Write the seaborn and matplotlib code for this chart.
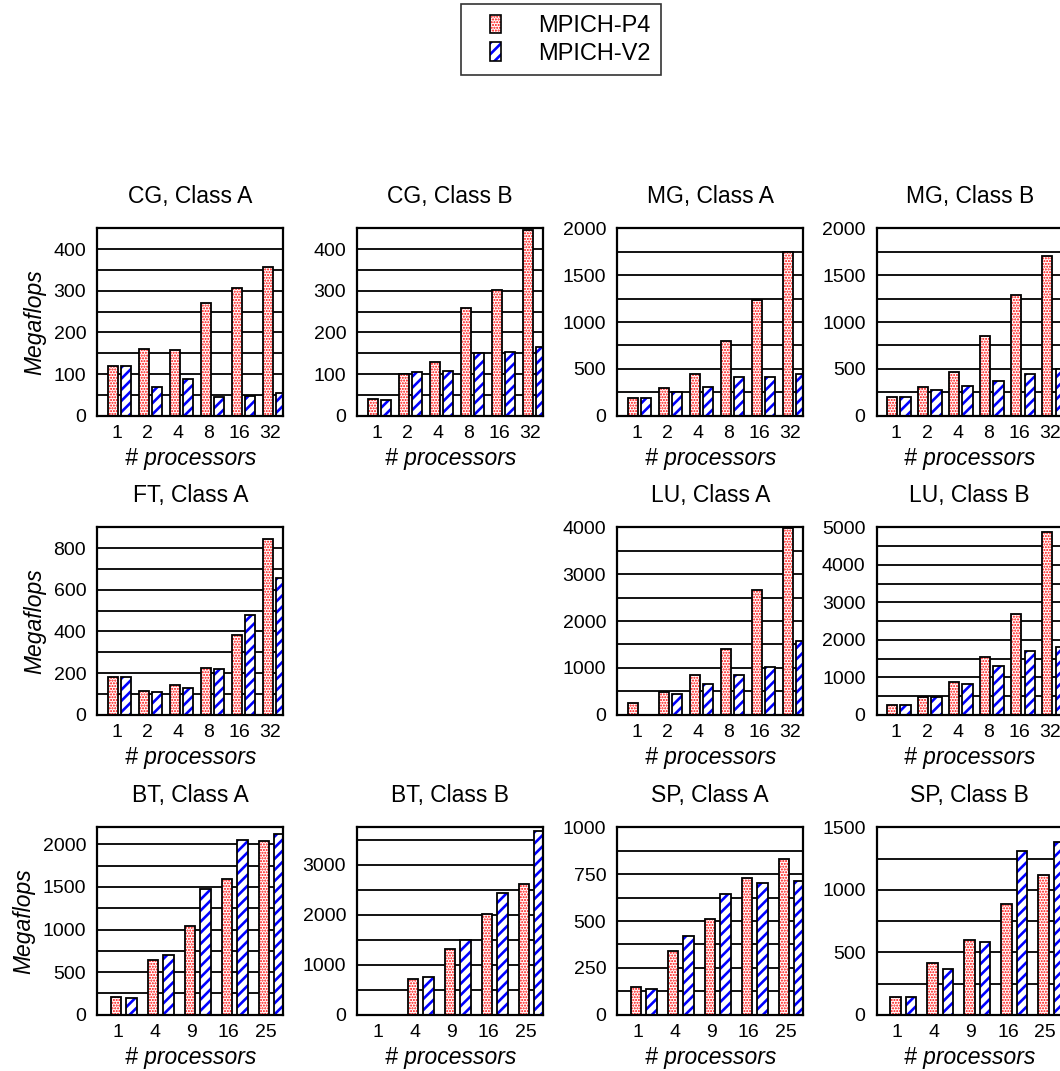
import matplotlib
matplotlib.use('Agg')
import pandas as pd
import seaborn as sns
from matplotlib import pyplot as plt
from matplotlib.patches import Patch, Rectangle
from matplotlib.legend_handler import HandlerPatch
from matplotlib.ticker import MultipleLocator
from matplotlib.colors import to_rgba

series = ['MPICH-P4', 'MPICH-V2']
procs_pow2 = ['1', '2', '4', '8', '16', '32']
procs_sq = ['1', '4', '9', '16', '25']

cg_a_p4 = [120, 160, 158, 271, 306, 358]
cg_a_v2 = [119, 70, 88, 45, 48, 54]
cg_b_p4 = [41, 100, 128, 259, 303, 445]
cg_b_v2 = [37, 104, 107, 150, 154, 166]
mg_a_p4 = [193, 293, 446, 800, 1232, 1746]
mg_a_v2 = [193, 254, 311, 418, 413, 443]
mg_b_p4 = [204, 311, 471, 846, 1289, 1700]
mg_b_v2 = [204, 275, 321, 375, 443, 496]
ft_a_p4 = [180, 114, 143, 227, 384, 843]
ft_a_v2 = [180, 108, 127, 219, 479, 658]
lu_a_p4 = [262, 479, 850, 1407, 2671, 3993]
lu_a_v2 = [None, 443, 657, 850, 1029, 1571]
lu_b_p4 = [265, 482, 884, 1536, 2679, 4866]
lu_b_v2 = [265, 464, 821, 1295, 1714, 1804]
bt_a_p4 = [212, 647, 1047, 1596, 2035]
bt_a_v2 = [196, 702, 1471, 2055, 2125]
bt_b_p4 = [None, 718, 1322, 2007, 2617]
bt_b_v2 = [None, 752, 1503, 2443, 3671]
sp_a_p4 = [150, 341, 512, 727, 830]
sp_a_v2 = [139, 418, 643, 705, 712]
sp_b_p4 = [145, 415, 600, 887, 1122]
sp_b_v2 = [145, 370, 579, 1310, 1385]

# title, categories, p4, v2, ymax, major step, grid step, row, col
panels = [
    ('CG, Class A', procs_pow2, cg_a_p4, cg_a_v2, 450, 100, 50, 0, 0),
    ('CG, Class B', procs_pow2, cg_b_p4, cg_b_v2, 450, 100, 50, 0, 1),
    ('MG, Class A', procs_pow2, mg_a_p4, mg_a_v2, 2000, 500, 250, 0, 2),
    ('MG, Class B', procs_pow2, mg_b_p4, mg_b_v2, 2000, 500, 250, 0, 3),
    ('FT, Class A', procs_pow2, ft_a_p4, ft_a_v2, 900, 200, 100, 1, 0),
    ('LU, Class A', procs_pow2, lu_a_p4, lu_a_v2, 4000, 1000, 500, 1, 2),
    ('LU, Class B', procs_pow2, lu_b_p4, lu_b_v2, 5000, 1000, 500, 1, 3),
    ('BT, Class A', procs_sq, bt_a_p4, bt_a_v2, 2200, 500, 250, 2, 0),
    ('BT, Class B', procs_sq, bt_b_p4, bt_b_v2, 3750, 1000, 500, 2, 1),
    ('SP, Class A', procs_sq, sp_a_p4, sp_a_v2, 1000, 250, 125, 2, 2),
    ('SP, Class B', procs_sq, sp_b_p4, sp_b_v2, 1500, 500, 250, 2, 3),
]

W, H = 1060, 1071
col_left = [97.3, 357.3, 617.3, 876.7]
row_top = [228.3, 527.3, 827.3]
ax_w, ax_h = 186, 187.5

sns.set_style('white')
plt.rcParams['font.family'] = ['Liberation Sans', 'DejaVu Sans']
plt.rcParams['hatch.linewidth'] = 0.8
for k in ['text.color', 'axes.labelcolor', 'xtick.color', 'ytick.color']:
    plt.rcParams[k] = 'black'

HATCH = {'MPICH-P4': ('......', 'red', 1.0), 'MPICH-V2': ('///', 'blue', 1.9)}


def hatch_width(artist, lw):
    if hasattr(artist, 'set_hatch_linewidth'):
        artist.set_hatch_linewidth(lw)
    artist._hatch_linewidth = lw
    orig = artist.draw

    def draw(renderer):
        with plt.rc_context({'hatch.linewidth': lw}):
            orig(renderer)
    artist.draw = draw


def style_bar(p, name, lw=1.3):
    hatch, color, hlw = HATCH[name]
    p.set_facecolor('white')
    p.set_edgecolor('black')
    p.set_linewidth(lw)
    p.set_hatch(hatch)
    p._hatch_color = to_rgba(color)
    hatch_width(p, hlw)


def draw_panel(ax, title, cats, p4, v2, ymax, major, minor, col):
    df = pd.DataFrame({
        'procs': cats + cats,
        'series': [series[0]] * len(cats) + [series[1]] * len(cats),
        'mflops': p4 + v2,
    }).dropna()
    six = len(cats) == 6
    sns.barplot(data=df, x='procs', y='mflops', hue='series', order=cats,
                hue_order=series, palette=['red', 'blue'], saturation=1,
                width=0.85 if six else 0.84, gap=0.23 if six else 0.32,
                errorbar=None, legend=False, ax=ax)
    for p in ax.patches:
        fc = p.get_facecolor()
        style_bar(p, series[0] if fc[0] > fc[2] else series[1])

    n = len(cats)
    ax.set_xlim(-0.716, n - 0.72 if six else n - 0.69)
    if six:
        ticks = [i - 0.08 - 0.012 * i for i in range(n)]
    else:
        ticks = [i - 0.17 for i in range(n)]
    ax.set_xticks(ticks)
    ax.set_xticklabels(cats)
    ax.set_ylim(0, ymax)
    ax.yaxis.set_major_locator(MultipleLocator(major))
    ax.yaxis.set_minor_locator(MultipleLocator(minor))
    ax.set_axisbelow(True)
    ax.grid(which='both', axis='y', color='black', lw=1.3)
    ax.grid(False, axis='x')
    ax.tick_params(axis='both', which='both', length=0, labelsize=14)
    ax.tick_params(axis='x', pad=6.5)
    ax.tick_params(axis='y', pad=8)
    for s in ax.spines.values():
        s.set_color('black')
        s.set_linewidth(1.6)
    ax.set_title(title, fontsize=16.5, pad=18)
    ax.set_xlabel('# processors', fontsize=16.5, style='italic', labelpad=4)
    if col == 0:
        ax.set_ylabel('Megaflops', fontsize=16.5, style='italic', labelpad=5)
    else:
        ax.set_ylabel('')


fig = plt.figure(figsize=(W / 100, H / 100), dpi=100)
for title, cats, p4, v2, ymax, major, minor, r, c in panels:
    ax = fig.add_axes([col_left[c] / W, 1 - (row_top[r] + ax_h) / H, ax_w / W, ax_h / H])
    draw_panel(ax, title, cats, p4, v2, ymax, major, minor, c)


def narrow_box(legend, orig_handle, xdescent, ydescent, width, height, fontsize):
    w = 0.47 * fontsize
    return Rectangle((-xdescent + width - w, -ydescent), w, height)


handles = []
for name in series:
    h = Patch(label=name)
    style_bar(h, name, lw=1.2)
    handles.append(h)

leg = fig.legend(handles=handles, labels=series, loc='upper center',
                 bbox_to_anchor=(561 / W, 1 - 4 / H), borderaxespad=0,
                 fontsize=17, frameon=True, fancybox=False, edgecolor='black',
                 handlelength=1.25, handleheight=0.85, handletextpad=1.55,
                 labelspacing=0.2, borderpad=0.45,
                 handler_map={Patch: HandlerPatch(patch_func=narrow_box)})
leg.get_frame().set_linewidth(1.2)
for p, name in zip(leg.get_patches(), series):
    hatch_width(p, HATCH[name][2])

fig.savefig('out.png', dpi=100)
